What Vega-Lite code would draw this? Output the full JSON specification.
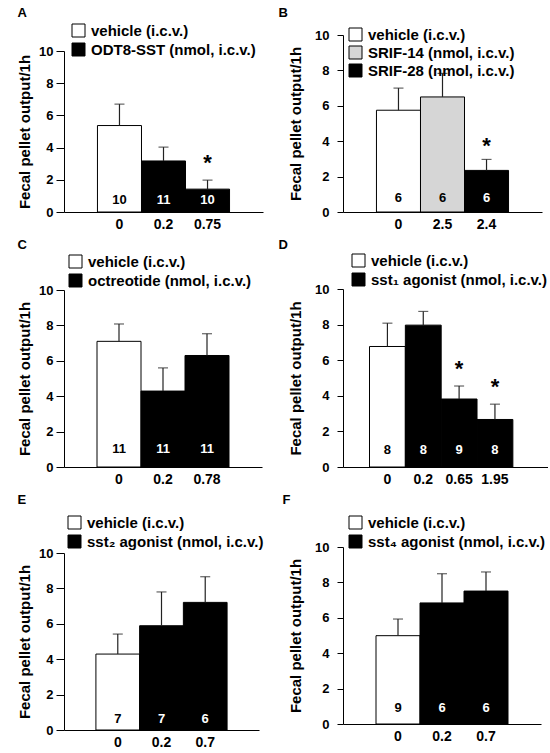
{
  "$schema": "https://vega.github.io/schema/vega-lite/v6.json",
  "padding": {"left": 17, "top": 7, "right": 0, "bottom": 0},
  "background": "white",
  "spacing": 14,
  "resolve": {"scale": {"fill": "independent"}, "legend": {"fill": "independent"}},
  "config": {
    "view": {"stroke": null},
    "font": "Liberation Sans",
    "axis": {"grid": false, "labelOverlap": false, "domainColor": "black", "tickColor": "black", "labelColor": "black", "labelFontWeight": "bold", "labelFontSize": 13, "titleColor": "black", "titleFontWeight": "bold", "titleFontSize": 15},
    "axisX": {"labelFontSize": 14},
    "legend": {"orient": "none", "padding": 0, "symbolType": "square", "symbolSize": 169, "symbolStrokeColor": "black", "symbolStrokeWidth": 1, "labelFontSize": 15, "labelFontWeight": "bold", "labelColor": "black", "labelOffset": 5, "rowPadding": 2, "labelLimit": 400},
    "title": {"anchor": "start", "fontSize": 13, "fontWeight": "bold", "color": "black", "offset": 4}
  },
  "hconcat": [
    {
      "spacing": 8,
      "resolve": {"scale": {"fill": "independent"}, "legend": {"fill": "independent"}},
      "vconcat": [
        {
          "title": {"text": "A", "offset": 3},
          "width": 199, "height": 177,
          "data": {"values": [
            {"dose": "0", "group": "vehicle (i.c.v.)", "mean": 5.37, "hi": 6.7, "n": "10", "sig": ""},
            {"dose": "0.2", "group": "ODT8-SST (nmol, i.c.v.)", "mean": 3.17, "hi": 4.03, "n": "11", "sig": ""},
            {"dose": "0.75", "group": "ODT8-SST (nmol, i.c.v.)", "mean": 1.42, "hi": 1.98, "n": "10", "sig": "*"}
          ]},
          "encoding": {"x": {"field": "dose", "type": "nominal", "sort": null, "title": null, "scale": {"paddingInner": 0, "paddingOuter": 0.76}, "axis": {"labelAngle": 0, "ticks": false, "tickSize": 0, "labelPadding": 5}}},
          "layer": [
            {"mark": {"type": "bar", "stroke": "black", "strokeWidth": 1},
             "encoding": {
               "y": {"field": "mean", "type": "quantitative", "title": "Fecal pellet output/1h", "scale": {"domain": [0, 10], "nice": false, "range": [177, 16]}, "axis": {"values": [0, 2, 4, 6, 8, 10], "labelOverlap": false, "tickSize": 8, "labelPadding": 3, "titlePadding": 6}},
               "fill": {"field": "group", "type": "nominal", "scale": {"domain": ["vehicle (i.c.v.)", "ODT8-SST (nmol, i.c.v.)"], "range": ["white", "black"]}, "legend": {"title": null, "legendX": 7, "legendY": -12}}
             }},
            {"mark": {"type": "rule", "color": "#222", "strokeWidth": 1.2},
             "encoding": {"y": {"field": "mean", "type": "quantitative", "title": "Fecal pellet output/1h", "axis": {"values": [0, 2, 4, 6, 8, 10], "labelOverlap": false, "tickSize": 8, "labelPadding": 3, "titlePadding": 6}}, "y2": {"field": "hi"}}},
            {"mark": {"type": "tick", "color": "#222", "thickness": 1.2, "size": 10},
             "encoding": {"y": {"field": "hi", "type": "quantitative", "title": "Fecal pellet output/1h", "axis": {"values": [0, 2, 4, 6, 8, 10], "labelOverlap": false, "tickSize": 8, "labelPadding": 3, "titlePadding": 6}}}},
            {"mark": {"type": "text", "fontWeight": "bold", "fontSize": 13, "baseline": "middle", "dy": -12},
             "encoding": {"y": {"datum": 0, "type": "quantitative", "title": "Fecal pellet output/1h", "axis": {"values": [0, 2, 4, 6, 8, 10], "labelOverlap": false, "tickSize": 8, "labelPadding": 3, "titlePadding": 6}}, "text": {"field": "n"},
               "color": {"condition": {"test": "datum.group === 'ODT8-SST (nmol, i.c.v.)'", "value": "white"}, "value": "black"}}},
            {"mark": {"type": "text", "fontWeight": "bold", "fontSize": 22, "baseline": "alphabetic", "dy": -10, "color": "black"},
             "encoding": {"y": {"field": "hi", "type": "quantitative", "title": "Fecal pellet output/1h", "axis": {"values": [0, 2, 4, 6, 8, 10], "labelOverlap": false, "tickSize": 8, "labelPadding": 3, "titlePadding": 6}}, "text": {"field": "sig"}}}
          ]
        },
        {
          "title": {"text": "C", "offset": 2},
          "width": 198, "height": 177,
          "data": {"values": [
            {"dose": "0", "group": "vehicle (i.c.v.)", "mean": 7.1, "hi": 8.08, "n": "11", "sig": ""},
            {"dose": "0.2", "group": "octreotide (nmol, i.c.v.)", "mean": 4.29, "hi": 5.6, "n": "11", "sig": ""},
            {"dose": "0.78", "group": "octreotide (nmol, i.c.v.)", "mean": 6.3, "hi": 7.53, "n": "11", "sig": ""}
          ]},
          "encoding": {"x": {"field": "dose", "type": "nominal", "sort": null, "title": null, "scale": {"paddingInner": 0, "paddingOuter": 0.75}, "axis": {"labelAngle": 0, "ticks": false, "tickSize": 0, "labelPadding": 5}}},
          "layer": [
            {"mark": {"type": "bar", "stroke": "black", "strokeWidth": 1},
             "encoding": {
               "y": {"field": "mean", "type": "quantitative", "title": "Fecal pellet output/1h", "scale": {"domain": [0, 10], "nice": false}, "axis": {"values": [0, 2, 4, 6, 8, 10], "labelOverlap": false, "tickSize": 8, "labelPadding": 3, "titlePadding": 6}},
               "fill": {"field": "group", "type": "nominal", "scale": {"domain": ["vehicle (i.c.v.)", "octreotide (nmol, i.c.v.)"], "range": ["white", "black"]}, "legend": {"title": null, "legendX": 4, "legendY": -36}}
             }},
            {"mark": {"type": "rule", "color": "#222", "strokeWidth": 1.2},
             "encoding": {"y": {"field": "mean", "type": "quantitative", "title": "Fecal pellet output/1h", "axis": {"values": [0, 2, 4, 6, 8, 10], "labelOverlap": false, "tickSize": 8, "labelPadding": 3, "titlePadding": 6}}, "y2": {"field": "hi"}}},
            {"mark": {"type": "tick", "color": "#222", "thickness": 1.2, "size": 10},
             "encoding": {"y": {"field": "hi", "type": "quantitative", "title": "Fecal pellet output/1h", "axis": {"values": [0, 2, 4, 6, 8, 10], "labelOverlap": false, "tickSize": 8, "labelPadding": 3, "titlePadding": 6}}}},
            {"mark": {"type": "text", "fontWeight": "bold", "fontSize": 13, "baseline": "middle", "dy": -18},
             "encoding": {"y": {"datum": 0, "type": "quantitative", "title": "Fecal pellet output/1h", "axis": {"values": [0, 2, 4, 6, 8, 10], "labelOverlap": false, "tickSize": 8, "labelPadding": 3, "titlePadding": 6}}, "text": {"field": "n"},
               "color": {"condition": {"test": "datum.group === 'octreotide (nmol, i.c.v.)'", "value": "white"}, "value": "black"}}}
          ]
        },
        {
          "title": {"text": "E", "offset": 8},
          "width": 195, "height": 177,
          "data": {"values": [
            {"dose": "0", "group": "vehicle (i.c.v.)", "mean": 4.29, "hi": 5.42, "n": "7", "sig": ""},
            {"dose": "0.2", "group": "sst₂ agonist (nmol, i.c.v.)", "mean": 5.89, "hi": 7.8, "n": "7", "sig": ""},
            {"dose": "0.7", "group": "sst₂ agonist (nmol, i.c.v.)", "mean": 7.21, "hi": 8.66, "n": "6", "sig": ""}
          ]},
          "encoding": {"x": {"field": "dose", "type": "nominal", "sort": null, "title": null, "scale": {"paddingInner": 0, "paddingOuter": 0.73}, "axis": {"labelAngle": 0, "ticks": false, "tickSize": 0, "labelPadding": 5}}},
          "layer": [
            {"mark": {"type": "bar", "stroke": "black", "strokeWidth": 1},
             "encoding": {
               "y": {"field": "mean", "type": "quantitative", "title": "Fecal pellet output/1h", "scale": {"domain": [0, 10], "nice": false}, "axis": {"values": [0, 2, 4, 6, 8, 10], "labelOverlap": false, "tickSize": 8, "labelPadding": 3, "titlePadding": 6}},
               "fill": {"field": "group", "type": "nominal", "scale": {"domain": ["vehicle (i.c.v.)", "sst₂ agonist (nmol, i.c.v.)"], "range": ["white", "black"]}, "legend": {"title": null, "legendX": 3, "legendY": -38}}
             }},
            {"mark": {"type": "rule", "color": "#222", "strokeWidth": 1.2},
             "encoding": {"y": {"field": "mean", "type": "quantitative", "title": "Fecal pellet output/1h", "axis": {"values": [0, 2, 4, 6, 8, 10], "labelOverlap": false, "tickSize": 8, "labelPadding": 3, "titlePadding": 6}}, "y2": {"field": "hi"}}},
            {"mark": {"type": "tick", "color": "#222", "thickness": 1.2, "size": 10},
             "encoding": {"y": {"field": "hi", "type": "quantitative", "title": "Fecal pellet output/1h", "axis": {"values": [0, 2, 4, 6, 8, 10], "labelOverlap": false, "tickSize": 8, "labelPadding": 3, "titlePadding": 6}}}},
            {"mark": {"type": "text", "fontWeight": "bold", "fontSize": 13, "baseline": "middle", "dy": -11},
             "encoding": {"y": {"datum": 0, "type": "quantitative", "title": "Fecal pellet output/1h", "axis": {"values": [0, 2, 4, 6, 8, 10], "labelOverlap": false, "tickSize": 8, "labelPadding": 3, "titlePadding": 6}}, "text": {"field": "n"},
               "color": {"condition": {"test": "datum.group === 'sst₂ agonist (nmol, i.c.v.)'", "value": "white"}, "value": "black"}}}
          ]
        }
      ]
    },
    {
      "spacing": 8,
      "resolve": {"scale": {"fill": "independent"}, "legend": {"fill": "independent"}},
      "vconcat": [
        {
          "title": {"text": "B", "dx": -10, "offset": 7},
          "width": 199, "height": 177,
          "data": {"values": [
            {"dose": "0", "group": "vehicle (i.c.v.)", "mean": 5.75, "hi": 7.0, "n": "6", "sig": ""},
            {"dose": "2.5", "group": "SRIF-14 (nmol, i.c.v.)", "mean": 6.5, "hi": 7.83, "n": "6", "sig": ""},
            {"dose": "2.4", "group": "SRIF-28 (nmol, i.c.v.)", "mean": 2.35, "hi": 2.97, "n": "6", "sig": "*"}
          ]},
          "encoding": {"x": {"field": "dose", "type": "nominal", "sort": null, "title": null, "scale": {"paddingInner": 0, "paddingOuter": 0.76}, "axis": {"labelAngle": 0, "ticks": false, "tickSize": 0, "labelPadding": 5}}},
          "layer": [
            {"mark": {"type": "bar", "stroke": "black", "strokeWidth": 1},
             "encoding": {
               "y": {"field": "mean", "type": "quantitative", "title": "Fecal pellet output/1h", "scale": {"domain": [0, 10], "nice": false}, "axis": {"values": [0, 2, 4, 6, 8, 10], "labelOverlap": false, "tickSize": 6, "labelPadding": 8, "titlePadding": 11}},
               "fill": {"field": "group", "type": "nominal", "scale": {"domain": ["vehicle (i.c.v.)", "SRIF-14 (nmol, i.c.v.)", "SRIF-28 (nmol, i.c.v.)"], "range": ["white", "#d6d6d6", "black"]}, "legend": {"title": null, "legendX": 5, "legendY": -8, "rowPadding": 1}}
             }},
            {"mark": {"type": "rule", "color": "#222", "strokeWidth": 1.2},
             "encoding": {"y": {"field": "mean", "type": "quantitative", "title": "Fecal pellet output/1h", "axis": {"values": [0, 2, 4, 6, 8, 10], "labelOverlap": false, "tickSize": 6, "labelPadding": 8, "titlePadding": 11}}, "y2": {"field": "hi"}}},
            {"mark": {"type": "tick", "color": "#222", "thickness": 1.2, "size": 10},
             "encoding": {"y": {"field": "hi", "type": "quantitative", "title": "Fecal pellet output/1h", "axis": {"values": [0, 2, 4, 6, 8, 10], "labelOverlap": false, "tickSize": 6, "labelPadding": 8, "titlePadding": 11}}}},
            {"mark": {"type": "text", "fontWeight": "bold", "fontSize": 13, "baseline": "middle", "dy": -14},
             "encoding": {"y": {"datum": 0, "type": "quantitative", "title": "Fecal pellet output/1h", "axis": {"values": [0, 2, 4, 6, 8, 10], "labelOverlap": false, "tickSize": 6, "labelPadding": 8, "titlePadding": 11}}, "text": {"field": "n"},
               "color": {"condition": {"test": "datum.group === 'SRIF-28 (nmol, i.c.v.)'", "value": "white"}, "value": "black"}}},
            {"mark": {"type": "text", "fontWeight": "bold", "fontSize": 22, "baseline": "alphabetic", "dy": -6, "color": "black"},
             "encoding": {"y": {"field": "hi", "type": "quantitative", "title": "Fecal pellet output/1h", "axis": {"values": [0, 2, 4, 6, 8, 10], "labelOverlap": false, "tickSize": 6, "labelPadding": 8, "titlePadding": 11}}, "text": {"field": "sig"}}}
          ]
        },
        {
          "title": {"text": "D", "dx": -10, "offset": 1},
          "width": 205, "height": 178,
          "data": {"values": [
            {"dose": "0", "group": "vehicle (i.c.v.)", "mean": 6.77, "hi": 8.08, "n": "8", "sig": ""},
            {"dose": "0.2", "group": "sst₁ agonist (nmol, i.c.v.)", "mean": 7.97, "hi": 8.74, "n": "8", "sig": ""},
            {"dose": "0.65", "group": "sst₁ agonist (nmol, i.c.v.)", "mean": 3.82, "hi": 4.55, "n": "9", "sig": "*"},
            {"dose": "1.95", "group": "sst₁ agonist (nmol, i.c.v.)", "mean": 2.67, "hi": 3.53, "n": "8", "sig": "*"}
          ]},
          "encoding": {"x": {"field": "dose", "type": "nominal", "sort": null, "title": null, "scale": {"paddingInner": 0, "paddingOuter": 0.86, "align": 0.43}, "axis": {"labelAngle": 0, "ticks": false, "tickSize": 0, "labelPadding": 5}}},
          "layer": [
            {"mark": {"type": "bar", "stroke": "black", "strokeWidth": 1},
             "encoding": {
               "y": {"field": "mean", "type": "quantitative", "title": "Fecal pellet output/1h", "scale": {"domain": [0, 10], "nice": false}, "axis": {"values": [0, 2, 4, 6, 8, 10], "labelOverlap": false, "tickSize": 6, "labelPadding": 8, "titlePadding": 11}},
               "fill": {"field": "group", "type": "nominal", "scale": {"domain": ["vehicle (i.c.v.)", "sst₁ agonist (nmol, i.c.v.)"], "range": ["white", "black"]}, "legend": {"title": null, "legendX": 8, "legendY": -36}}
             }},
            {"mark": {"type": "rule", "color": "#222", "strokeWidth": 1.2},
             "encoding": {"y": {"field": "mean", "type": "quantitative", "title": "Fecal pellet output/1h", "axis": {"values": [0, 2, 4, 6, 8, 10], "labelOverlap": false, "tickSize": 6, "labelPadding": 8, "titlePadding": 11}}, "y2": {"field": "hi"}}},
            {"mark": {"type": "tick", "color": "#222", "thickness": 1.2, "size": 10},
             "encoding": {"y": {"field": "hi", "type": "quantitative", "title": "Fecal pellet output/1h", "axis": {"values": [0, 2, 4, 6, 8, 10], "labelOverlap": false, "tickSize": 6, "labelPadding": 8, "titlePadding": 11}}}},
            {"mark": {"type": "text", "fontWeight": "bold", "fontSize": 13, "baseline": "middle", "dy": -17},
             "encoding": {"y": {"datum": 0, "type": "quantitative", "title": "Fecal pellet output/1h", "axis": {"values": [0, 2, 4, 6, 8, 10], "labelOverlap": false, "tickSize": 6, "labelPadding": 8, "titlePadding": 11}}, "text": {"field": "n"},
               "color": {"condition": {"test": "datum.group === 'sst₁ agonist (nmol, i.c.v.)'", "value": "white"}, "value": "black"}}},
            {"mark": {"type": "text", "fontWeight": "bold", "fontSize": 22, "baseline": "alphabetic", "dy": -10, "color": "black"},
             "encoding": {"y": {"field": "hi", "type": "quantitative", "title": "Fecal pellet output/1h", "axis": {"values": [0, 2, 4, 6, 8, 10], "labelOverlap": false, "tickSize": 6, "labelPadding": 8, "titlePadding": 11}}, "text": {"field": "sig"}}}
          ]
        },
        {
          "title": {"text": "F", "dx": -6, "offset": 8},
          "width": 198, "height": 177,
          "data": {"values": [
            {"dose": "0", "group": "vehicle (i.c.v.)", "mean": 4.99, "hi": 5.93, "n": "9", "sig": ""},
            {"dose": "0.2", "group": "sst₄ agonist (nmol, i.c.v.)", "mean": 6.84, "hi": 8.49, "n": "6", "sig": ""},
            {"dose": "0.7", "group": "sst₄ agonist (nmol, i.c.v.)", "mean": 7.51, "hi": 8.59, "n": "6", "sig": ""}
          ]},
          "encoding": {"x": {"field": "dose", "type": "nominal", "sort": null, "title": null, "scale": {"paddingInner": 0, "paddingOuter": 0.75}, "axis": {"labelAngle": 0, "ticks": false, "tickSize": 0, "labelPadding": 5}}},
          "layer": [
            {"mark": {"type": "bar", "stroke": "black", "strokeWidth": 1},
             "encoding": {
               "y": {"field": "mean", "type": "quantitative", "title": "Fecal pellet output/1h", "scale": {"domain": [0, 10], "nice": false}, "axis": {"values": [0, 2, 4, 6, 8, 10], "labelOverlap": false, "tickSize": 6, "labelPadding": 8, "titlePadding": 11}},
               "fill": {"field": "group", "type": "nominal", "scale": {"domain": ["vehicle (i.c.v.)", "sst₄ agonist (nmol, i.c.v.)"], "range": ["white", "black"]}, "legend": {"title": null, "legendX": 5, "legendY": -32}}
             }},
            {"mark": {"type": "rule", "color": "#222", "strokeWidth": 1.2},
             "encoding": {"y": {"field": "mean", "type": "quantitative", "title": "Fecal pellet output/1h", "axis": {"values": [0, 2, 4, 6, 8, 10], "labelOverlap": false, "tickSize": 6, "labelPadding": 8, "titlePadding": 11}}, "y2": {"field": "hi"}}},
            {"mark": {"type": "tick", "color": "#222", "thickness": 1.2, "size": 10},
             "encoding": {"y": {"field": "hi", "type": "quantitative", "title": "Fecal pellet output/1h", "axis": {"values": [0, 2, 4, 6, 8, 10], "labelOverlap": false, "tickSize": 6, "labelPadding": 8, "titlePadding": 11}}}},
            {"mark": {"type": "text", "fontWeight": "bold", "fontSize": 13, "baseline": "middle", "dy": -16},
             "encoding": {"y": {"datum": 0, "type": "quantitative", "title": "Fecal pellet output/1h", "axis": {"values": [0, 2, 4, 6, 8, 10], "labelOverlap": false, "tickSize": 6, "labelPadding": 8, "titlePadding": 11}}, "text": {"field": "n"},
               "color": {"condition": {"test": "datum.group === 'sst₄ agonist (nmol, i.c.v.)'", "value": "white"}, "value": "black"}}}
          ]
        }
      ]
    }
  ]
}
